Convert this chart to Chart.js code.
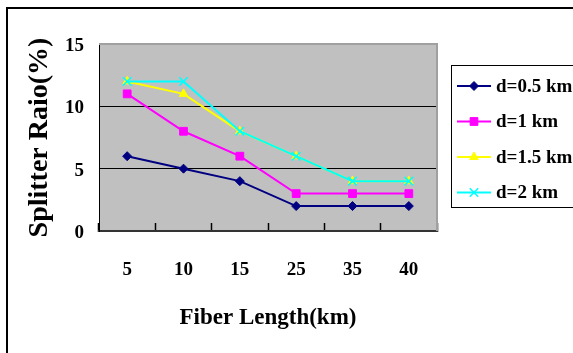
<!DOCTYPE html>
<html>
<head>
<meta charset="utf-8">
<script src="https://cdn.jsdelivr.net/npm/chart.js@4/dist/chart.umd.min.js"></script>
<style>
  html, body { margin: 0; padding: 0; background: #ffffff; }
  #wrap { position: relative; width: 573px; height: 353px; }
</style>
</head>
<body>
<div id="wrap"><canvas id="c"></canvas></div>
<script>
// Fiber length categories (km) on the x axis
const categories = ['5', '10', '15', '25', '35', '40'];

// Splitter ratio (%) for each distance d
const seriesD05 = [6, 5, 4, 2, 2, 2];
const seriesD1 = [11, 8, 6, 3, 3, 3];
const seriesD15 = [12, 11, 8, 6, 4, 4];
const seriesD2 = [12, 12, 8, 6, 4, 4];

const seriesNames = ['d=0.5 km', 'd=1 km', 'd=1.5 km', 'd=2 km'];
const yTickValues = [0, 5, 10, 15];

const serif = "'Liberation Serif', 'Times New Roman', serif";

function makeSet(label, data, color, style, radius, order) {
  return {
    label: label,
    data: data,
    borderColor: color,
    backgroundColor: color,
    pointBackgroundColor: color,
    pointBorderColor: color,
    pointStyle: style,
    pointRadius: radius,
    pointHoverRadius: radius,
    pointBorderWidth: style === 'crossRot' ? 1.5 : 1,
    borderWidth: 2,
    tension: 0,
    fill: false,
    order: order
  };
}

const datasets = [
  makeSet(seriesNames[0], seriesD05, '#000080', 'rectRot', 4.5, 3),
  makeSet(seriesNames[1], seriesD1, '#ff00ff', 'rect', 5.5, 2),
  makeSet(seriesNames[2], seriesD15, '#ffff00', 'triangle', 5, 1),
  makeSet(seriesNames[3], seriesD2, '#00ffff', 'crossRot', 6, 0)
];

// Grey plot background, plot frame, outer frame and the boxed legend
const frame = {
  id: 'frame',
  beforeDraw(chart) {
    const { ctx, chartArea: a } = chart;
    ctx.save();
    ctx.fillStyle = '#c0c0c0';
    ctx.fillRect(a.left, a.top, a.right - a.left, a.bottom - a.top);
    ctx.restore();
  },
  afterDraw(chart) {
    const { ctx, chartArea: a } = chart;
    ctx.save();
    // plot area top and right edges
    ctx.strokeStyle = '#a0a0a0';
    ctx.lineWidth = 2;
    ctx.beginPath();
    ctx.moveTo(a.left, a.top);
    ctx.lineTo(a.right, a.top);
    ctx.lineTo(a.right, a.bottom);
    ctx.stroke();

    // outer chart frame (top and left)
    ctx.strokeStyle = '#000000';
    ctx.lineWidth = 2;
    ctx.beginPath();
    ctx.moveTo(7, 353);
    ctx.lineTo(7, 8);
    ctx.lineTo(573, 8);
    ctx.stroke();

    // legend box
    ctx.lineWidth = 1;
    ctx.strokeRect(451.5, 65.5, 140, 142);

    const rowY = [86, 121.5, 157, 192.5];
    chart.data.datasets.forEach((ds, i) => {
      const y = rowY[i];
      ctx.strokeStyle = ds.borderColor;
      ctx.fillStyle = ds.backgroundColor;
      ctx.lineWidth = 2;
      ctx.beginPath();
      ctx.moveTo(457, y);
      ctx.lineTo(491, y);
      ctx.stroke();
      ctx.lineWidth = ds.pointBorderWidth;
      Chart.helpers.drawPoint(ctx, {
        pointStyle: ds.pointStyle,
        radius: ds.pointRadius,
        rotation: 0,
        borderWidth: ds.pointBorderWidth
      }, 474, y);
      ctx.fillStyle = '#000000';
      ctx.font = 'bold 19px ' + serif;
      ctx.textBaseline = 'middle';
      ctx.textAlign = 'left';
      ctx.fillText(ds.label, 496, y + 1);
    });
    ctx.restore();
  }
};

new Chart(document.getElementById('c'), {
  type: 'line',
  data: { labels: categories, datasets: datasets },
  plugins: [frame],
  options: {
    responsive: true,
    maintainAspectRatio: false,
    animation: false,
    events: [],
    layout: { padding: { left: 0, top: 44, right: 136, bottom: 0 } },
    plugins: {
      legend: { display: false },
      tooltip: { enabled: false },
      title: { display: false }
    },
    scales: {
      x: {
        type: 'category',
        offset: true,
        afterFit(scale) { scale.height = 122; },
        grid: {
          offset: true,
          drawOnChartArea: false,
          drawTicks: true,
          tickLength: -8,
          tickWidth: 1.5,
          tickColor: '#000000'
        },
        border: { display: true, color: '#333333', width: 2 },
        ticks: {
          color: '#000000',
          padding: 36,
          maxRotation: 0,
          font: { family: serif, size: 19, weight: 'bold' }
        },
        title: {
          display: true,
          text: 'Fiber Length(km)',
          color: '#000000',
          padding: { top: 0, bottom: 21 },
          font: { family: serif, size: 23, weight: 'bold' }
        }
      },
      y: {
        min: 0,
        max: 15,
        afterFit(scale) { scale.width = 99; },
        afterBuildTicks(scale) { scale.ticks = yTickValues.map(v => ({ value: v })); },
        grid: {
          drawTicks: false,
          color: (c) => (c.tick && c.tick.value > 0 && c.tick.value < 15) ? '#000000' : 'rgba(0,0,0,0)',
          lineWidth: 1
        },
        border: { display: true, color: '#000000', width: 1 },
        ticks: {
          color: '#000000',
          padding: 15,
          labelOffset: 2,
          font: { family: serif, size: 19, weight: 'bold' }
        },
        title: {
          display: true,
          text: 'Splitter Raio(%)',
          color: '#000000',
          padding: { top: 23, bottom: 0 },
          font: { family: serif, size: 28, weight: 'bold' }
        }
      }
    }
  }
});
</script>
</body>
</html>
